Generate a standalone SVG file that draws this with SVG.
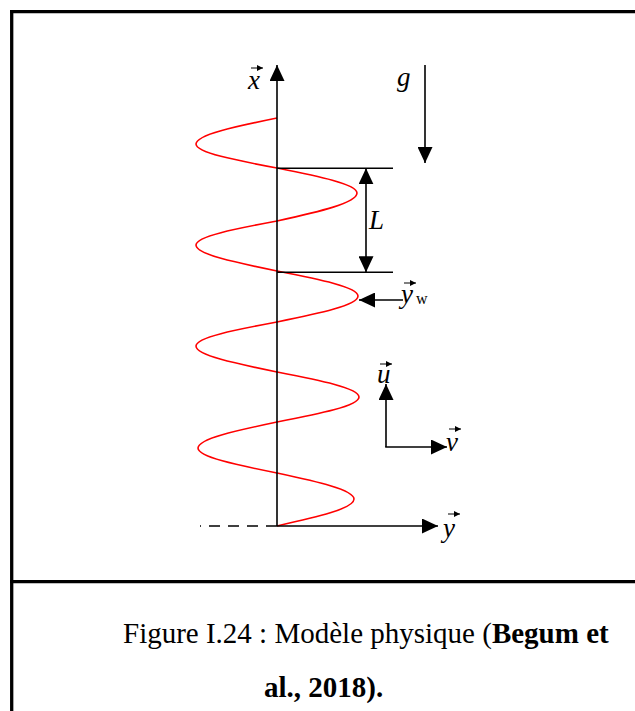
<svg xmlns="http://www.w3.org/2000/svg" width="635" height="711" viewBox="0 0 635 711">
  <style>
    .frame { stroke: #000; stroke-width: 3.3; fill: none; }
    .ax { stroke: #000; stroke-width: 1.6; fill: none; }
    .acc { stroke: #000; stroke-width: 1; fill: none; }
    .wave { stroke: #ff0000; stroke-width: 1.6; fill: none; }
    .lbl { font-family: "Liberation Serif", "Times New Roman", serif; font-style: italic; font-size: 27px; fill: #000; }
    .sub { font-family: "Liberation Serif", "Times New Roman", serif; font-size: 16px; fill: #000; }
    .cap { font-family: "Liberation Serif", "Times New Roman", serif; font-size: 29px; fill: #000; }
  </style>
  <defs>
    <marker id="ah" markerUnits="userSpaceOnUse" markerWidth="16" markerHeight="15" viewBox="0 0 16 15" refX="16" refY="7.5" orient="auto-start-reverse">
      <path d="M0,0 L16,7.5 L0,15 z" fill="#000"/>
    </marker>
    <marker id="sa" markerUnits="userSpaceOnUse" markerWidth="6" markerHeight="6" viewBox="0 0 6 6" refX="6" refY="3" orient="auto">
      <path d="M0,0 L6,3 L0,6 z" fill="#000"/>
    </marker>
  </defs>

  <g id="frame">
    <line class="frame" x1="10" y1="11.7" x2="635" y2="11.7"/>
    <line class="frame" x1="11.7" y1="10" x2="11.7" y2="711"/>
    <line class="frame" x1="10" y1="581.7" x2="635" y2="581.7"/>
  </g>

  <g id="wave">
    <path class="wave" d="M277,118 C235.5,126.5 196,134.6 196,144 C196,152.7 235.5,160.2 277,168 C318,176.2 357,184 357,193 C357,203.1 318,211.9 277,221 C235.5,228.8 196,236.3 196,245 C196,254.4 235.5,262.5 277,271 C318.5,279.2 358,287 358,296 C358,305.4 318.5,313.5 277,322 C235.5,329.8 196,337.3 196,346 C196,355.4 235.5,363.5 277,372 C319,380.2 359,388 359,397 C359,406 319,413.9 277,422 C236.5,430.5 198,438.6 198,448 C198,457 236.5,464.9 277,473 C316.4,481.5 354,489.6 354,499 C354,508.7 316.4,517.2 277,526"/>
  </g>

  <g id="connectors">
    <line class="ax" x1="277" y1="526" x2="277" y2="65" marker-end="url(#ah)"/>
    <line class="ax" x1="277" y1="526" x2="438" y2="526" marker-end="url(#ah)"/>
    <line class="ax" x1="277" y1="526" x2="200" y2="526" stroke-dasharray="11 8"/>
    <line class="ax" x1="425" y1="65" x2="425" y2="163" marker-end="url(#ah)"/>
    <line class="ax" x1="277" y1="168.3" x2="393" y2="168.3"/>
    <line class="ax" x1="277" y1="272.3" x2="393" y2="272.3"/>
    <line class="ax" x1="366" y1="168.3" x2="366" y2="272.3" marker-start="url(#ah)" marker-end="url(#ah)"/>
    <line class="ax" x1="403" y1="300" x2="359" y2="300" marker-end="url(#ah)"/>
    <line class="ax" x1="386" y1="447" x2="386" y2="384" marker-end="url(#ah)"/>
    <line class="ax" x1="385.2" y1="447" x2="447" y2="447" marker-end="url(#ah)"/>
  </g>

  <g id="label-x">
    <text class="lbl" x="248" y="89">x</text>
    <line class="acc" x1="251" y1="68" x2="263" y2="68" marker-end="url(#sa)"/>
  </g>
  <g id="label-g">
    <text class="lbl" x="397" y="86" font-size="28">g</text>
  </g>
  <g id="label-L">
    <text class="lbl" x="369" y="229" font-size="25">L</text>
  </g>
  <g id="label-yw">
    <text class="lbl" x="401" y="303">y</text>
    <line class="acc" x1="404" y1="283" x2="416" y2="283" marker-end="url(#sa)"/>
    <text class="sub" x="416" y="304">w</text>
  </g>
  <g id="label-u">
    <text class="lbl" x="377" y="383">u</text>
    <line class="acc" x1="380" y1="364" x2="392" y2="364" marker-end="url(#sa)"/>
  </g>
  <g id="label-v">
    <text class="lbl" x="446" y="451">v</text>
    <line class="acc" x1="449" y1="429" x2="461" y2="429" marker-end="url(#sa)"/>
  </g>
  <g id="label-y">
    <text class="lbl" x="443" y="537">y</text>
    <line class="acc" x1="448" y1="514" x2="460" y2="514" marker-end="url(#sa)"/>
  </g>

  <g id="caption">
    <text class="cap" x="123" y="643">Figure I.24 : Modèle physique (<tspan font-weight="bold">Begum et</tspan></text>
    <text class="cap" x="264" y="697" font-weight="bold">al., 2018).</text>
  </g>
</svg>
